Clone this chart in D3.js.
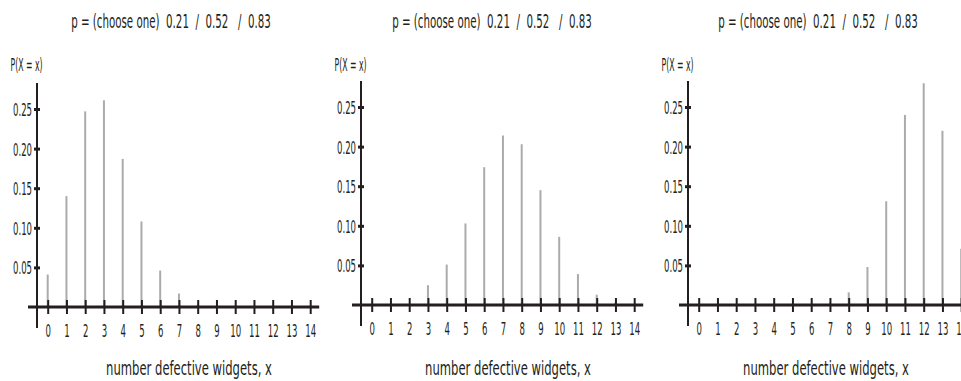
<!DOCTYPE html>
<html><head><meta charset="utf-8">
<script src="https://cdn.jsdelivr.net/npm/d3@7"></script>
<style>
body{margin:0;background:#fff}
svg text{font-family:"Liberation Sans Narrow","DejaVu Sans Condensed","Roboto Condensed",sans-serif;fill:#231f20}
</style></head><body><svg id="c" width="961" height="381"></svg>
<script>
// ---- data ----
const categories = [0,1,2,3,4,5,6,7,8,9,10,11,12,13,14];
const seriesA = [0.041,0.140,0.247,0.261,0.187,0.108,0.046,0.017,0.003,0,0,0,0,0,0];
const seriesB = [0,0,0.001,0.025,0.051,0.103,0.174,0.214,0.203,0.145,0.086,0.039,0.013,0.003,0.001];
const seriesC = [0,0,0,0,0,0,0,0.003,0.016,0.048,0.131,0.240,0.280,0.220,0.071];
const yTickValues = [0.05,0.10,0.15,0.20,0.25];
const yTickLabels = ["0.05","0.10","0.15","0.20","0.25"];
const titleText = "p = (choose one)  0.21  /  0.52   /  0.83";
const yLabel = "P(X = x)";
const xLabel = "number defective widgets, x";

// ---- layout ----
const panels = [
  {data: seriesA, axisX: 37,  zeroY: 307, titleCx: 171, xLabelCx: 189},
  {data: seriesB, axisX: 361, zeroY: 305, titleCx: 492, xLabelCx: 508},
  {data: seriesC, axisX: 688, zeroY: 305, titleCx: 818, xLabelCx: 826}
];
const ink = "#231f20", barColor = "#ababab";
const svg = d3.select("#c");

// measure a string to get a horizontal condensing factor
function condense(str, fs, target) {
  const t = svg.append("text").attr("font-size", fs).style("white-space", "pre").text(str);
  const s = target / t.node().getComputedTextLength();
  t.remove();
  return s;
}
const tickFs = 18;
const tickScale = condense("0.25", tickFs, 19);
const titleScale = condense(titleText, 20, 200);
const yLabScale = condense(yLabel, 18, 32);
const xLabScale = condense(xLabel, 20, 166);

function placeText(g, str, cx, y, fs, s) {
  g.append("text").attr("transform", `translate(${cx},${y}) scale(${s},1)`)
    .attr("text-anchor", "middle").attr("font-size", fs)
    .style("white-space", "pre").text(str);
}

panels.forEach(p => {
  const x0 = p.axisX + 10.7;
  const x = d3.scaleLinear().domain([0, 14]).range([x0, x0 + 14 * 18.75]);
  const y = d3.scaleLinear().domain([0, 0.25]).range([p.zeroY, p.zeroY - 198]);
  const g = svg.append("g");

  // bars
  g.selectAll("line.bar").data(p.data.map((v, i) => ({k: categories[i], v})))
    .join("line").attr("class", "bar")
    .attr("x1", d => x(d.k)).attr("x2", d => x(d.k))
    .attr("y1", y(0)).attr("y2", d => y(d.v))
    .attr("stroke", barColor).attr("stroke-width", 2);

  // y axis
  const ya = g.append("g").attr("transform", `translate(${p.axisX},0)`)
    .call(d3.axisLeft(y).tickValues(yTickValues).tickFormat((d, i) => yTickLabels[i]).tickSize(0));
  ya.select(".domain").remove();
  ya.selectAll(".tick line").attr("x1", -3).attr("x2", 3).attr("stroke", ink).attr("stroke-width", 3);
  ya.selectAll(".tick text").attr("x", 0).attr("dy", "0.36em").attr("font-size", tickFs)
    .attr("font-family", null).attr("transform", `translate(-5,0) scale(${tickScale},1)`);
  g.append("line").attr("x1", p.axisX).attr("x2", p.axisX)
    .attr("y1", p.zeroY - 224).attr("y2", p.zeroY + 21)
    .attr("stroke", ink).attr("stroke-width", 2);

  // x axis
  const xa = g.append("g").attr("transform", `translate(0,${p.zeroY})`)
    .call(d3.axisBottom(x).tickValues(categories).tickFormat(d3.format("d")).tickSize(0));
  xa.select(".domain").remove();
  xa.selectAll(".tick line").attr("y1", -7).attr("y2", 7).attr("stroke", ink).attr("stroke-width", 2);
  xa.selectAll(".tick text").attr("y", 30).attr("dy", 0).attr("font-size", tickFs)
    .attr("font-family", null).attr("transform", `scale(${tickScale},1)`);
  g.append("line").attr("x1", p.axisX - 9).attr("x2", x(14) + 9)
    .attr("y1", p.zeroY).attr("y2", p.zeroY)
    .attr("stroke", ink).attr("stroke-width", 3);

  // texts
  placeText(g, titleText, p.titleCx, 28, 20, titleScale);
  placeText(g, yLabel, p.axisX - 10.5, 71, 18, yLabScale);
  placeText(g, xLabel, p.xLabelCx, 375, 20, xLabScale);
});
</script></body></html>
